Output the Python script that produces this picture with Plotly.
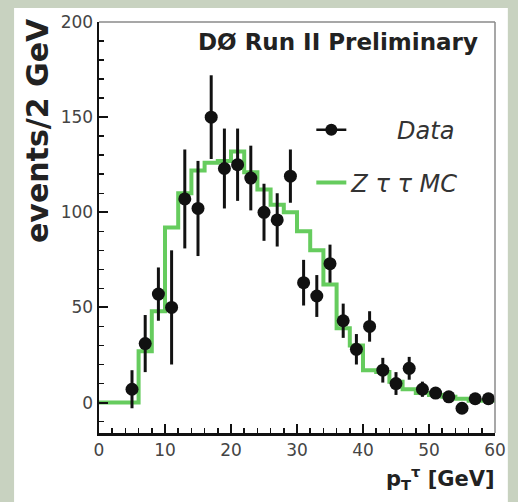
import plotly.graph_objects as go

# ---- data ----
data_x = [5, 7, 9, 11, 13, 15, 17, 19, 21, 23, 25, 27, 29, 31, 33, 35, 37, 39,
          41, 43, 45, 47, 49, 51, 53, 55, 57, 59]
data_y = [7, 31, 57, 50, 107, 102, 150, 123, 125, 118, 100, 96, 119, 63, 56, 73,
          43, 28, 40, 17, 10, 18, 7, 5, 3, -3, 2, 2]
data_err = [10, 15, 14, 30, 26, 25, 22, 21, 19, 17, 15, 14, 14, 12, 11, 10,
            9, 8, 8, 6.5, 6, 6, 4, 3, 3, 3, 3, 3]

mc_edges = [0, 2, 4, 6, 8, 10, 12, 14, 16, 18, 20, 22, 24, 26, 28, 30, 32, 34,
            36, 38, 40, 42, 44, 46, 48, 50, 52, 54, 56, 58, 60]
mc_vals = [0, 0, 0, 27, 48, 92, 110, 122, 126, 127, 132, 121, 112, 104, 100, 90,
           80, 62, 39, 30, 17, 16, 11, 7, 5, 4, 3, 2, 1, 1]

x_ticks = [0, 10, 20, 30, 40, 50, 60]
y_ticks = [0, 50, 100, 150, 200]

# ---- style ----
GREEN = "#66cc5e"
SAGE = "#c8d2c0"
FONT = "DejaVu Sans"

W, H = 518, 502
L, T = 99, 19
R = W - 500
B = H - 433
PW, PH = W - L - R, H - T - B


def px(xp):
    return (xp - L) / PW


def py(yp):
    return (H - B - yp) / PH


fig = go.Figure()

# MC step histogram
fig.add_trace(go.Scatter(
    x=mc_edges, y=mc_vals + [mc_vals[-1]],
    mode="lines", line=dict(color=GREEN, width=4, shape="hv"),
    name="Z\u00a0τ\u00a0τ\u00a0MC", legend="legend2", showlegend=True,
))

# Data points with error bars
fig.add_trace(go.Scatter(
    x=data_x, y=data_y, mode="markers",
    marker=dict(color="#111111", size=13),
    error_y=dict(type="data", array=data_err, color="#111111", thickness=3, width=0),
    showlegend=False, name="Data",
))

# legend entry for data
fig.add_trace(go.Scatter(
    x=[None], y=[None], mode="lines+markers",
    line=dict(color="#111111", width=2.5),
    marker=dict(color="#111111", size=12),
    name="\u00a0" * 6 + "Data", legend="legend", showlegend=True,
))

fig.update_layout(
    width=W, height=H, autosize=False,
    margin=dict(l=L, r=R, t=T, b=B, pad=0),
    paper_bgcolor=SAGE, plot_bgcolor="white",
    font=dict(family=FONT, color="#444444", size=17),
    xaxis=dict(
        range=[0, 60], tickvals=x_ticks, ticktext=[str(v) for v in x_ticks],
        ticks="inside", ticklen=9, tickwidth=2, tickcolor="#111111",
        showline=True, linecolor="#111111", linewidth=2.5,
        showgrid=False, zeroline=False,
        tickfont=dict(family=FONT, size=17, color="#444444"),
        minor=dict(dtick=2, ticks="inside", ticklen=5, tickwidth=1.5, tickcolor="#111111", showgrid=False),
    ),
    yaxis=dict(
        range=[-16, 200], tickvals=y_ticks, ticktext=[str(v) for v in y_ticks],
        ticks="inside", ticklen=9, tickwidth=2, tickcolor="#111111",
        showline=True, linecolor="#111111", linewidth=2.5,
        showgrid=False, zeroline=False,
        tickfont=dict(family=FONT, size=17, color="#444444"),
        minor=dict(dtick=10, ticks="inside", ticklen=5, tickwidth=1.5, tickcolor="#111111", showgrid=False),
    ),
    legend=dict(
        x=px(314), y=py(128), xanchor="left", yanchor="middle",
        bgcolor="rgba(0,0,0,0)", borderwidth=0,
        font=dict(family=FONT, size=24, color="#333333", style="italic"),
        itemwidth=30,
    ),
    legend2=dict(
        x=px(314), y=py(181), xanchor="left", yanchor="middle",
        bgcolor="rgba(0,0,0,0)", borderwidth=0,
        font=dict(family=FONT, size=24, color="#333333", style="italic"),
        itemwidth=30,
    ),
    shapes=[
        # white panel
        dict(type="rect", xref="paper", yref="paper",
             x0=px(13), x1=px(513), y0=py(530), y1=py(5),
             fillcolor="white", line=dict(width=0), layer="below"),
        # top and right frame lines
        dict(type="line", xref="paper", yref="paper", x0=0, x1=1, y0=1, y1=1,
             line=dict(color="#8a8a8a", width=1.5)),
        dict(type="line", xref="paper", yref="paper", x0=1, x1=1, y0=0, y1=1,
             line=dict(color="#8a8a8a", width=1.5)),
    ],
    annotations=[
        dict(text="<b>DØ Run II Preliminary</b>", xref="paper", yref="paper",
             x=px(485), y=py(39), xanchor="right", yanchor="middle", showarrow=False,
             font=dict(family=FONT, size=23, color="#222222")),
        dict(text="<b>events/2 GeV</b>", xref="paper", yref="paper",
             x=px(36), y=py(128), xanchor="center", yanchor="middle", showarrow=False,
             textangle=-90,
             font=dict(family=FONT, size=30, color="#222222")),
        dict(text="<b>p<sub>T</sub><sup>τ</sup> [GeV]</b>", xref="paper", yref="paper",
             x=px(502), y=py(478), xanchor="right", yanchor="middle", showarrow=False,
             font=dict(family=FONT, size=21, color="#222222")),
    ],
)

fig.write_html(
    "out.html",
    config={"displayModeBar": False, "staticPlot": True},
    post_script="document.body.style.margin='0';document.body.style.overflow='hidden';",
)
